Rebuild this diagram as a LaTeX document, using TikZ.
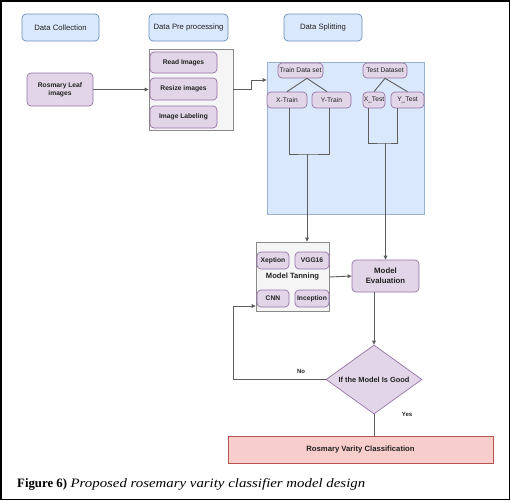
\documentclass[tikz,border=0pt]{standalone}
\usepackage{fontspec}
\setmainfont{Liberation Sans}
\newfontfamily\capfont{Liberation Serif}
\newfontfamily\capit[FakeStretch=1.16]{Liberation Serif}
\usetikzlibrary{shapes.geometric,arrows.meta,calc}
\definecolor{bfill}{HTML}{DAE8FC}
\definecolor{bdraw}{HTML}{6C8EBF}
\definecolor{pfill}{HTML}{E1D5E7}
\definecolor{pdraw}{HTML}{9673A6}
\definecolor{gfill}{HTML}{F5F5F5}
\definecolor{gdraw}{HTML}{8A8A8A}
\definecolor{rfill}{HTML}{F8CECC}
\definecolor{rdraw}{HTML}{B85450}
\definecolor{lgray}{HTML}{5E5E5E}
\definecolor{txt}{HTML}{222222}
\tikzset{
  box/.style={rounded corners=4pt, inner sep=0pt, align=center, line width=0.7pt, text=txt},
  hdr/.style={box, fill=bfill, draw=bdraw, font=\fontsize{7.7}{9}\selectfont},
  pbox/.style={box, fill=pfill, draw=pdraw, font=\bfseries\fontsize{6.7}{8}\selectfont},
  tbox/.style={box, fill=pfill, draw=pdraw, font=\fontsize{6.7}{8}\selectfont},
  cont/.style={inner sep=0pt, line width=0.7pt},
  conn/.style={draw=lgray, line width=0.9pt},
  arr/.style={conn, -{Triangle[length=4pt,width=3.6pt]}},
  lbl/.style={inner sep=0pt, text=txt, font=\bfseries\fontsize{6}{7}\selectfont}
}
\begin{document}
\begin{tikzpicture}[x=1pt,y=-1pt]
\useasboundingbox (0,0) rectangle (511,501);
\draw[line width=1.5pt] (0.75,0.75) rectangle (509.5,499.5);

% headers
\node[hdr, minimum width=77, minimum height=27] (dc) at (60.5,27.5) {Data Collection};
\node[hdr, minimum width=79, minimum height=27] (dp) at (188.5,27.5) {Data Pre processing};
\node[hdr, minimum width=78, minimum height=27] (ds) at (323,27.5) {Data Splitting};

% containers
\node[cont, fill=gfill, draw=gdraw, minimum width=84, minimum height=81] (prep) at (191,89.5) {};
\node[cont, fill=bfill, draw=bdraw!70, minimum width=157, minimum height=152] (blue) at (345.5,138) {};
\node[cont, fill=gfill, draw=gdraw, minimum width=73, minimum height=69] (tan) at (292.5,276.5) {};

% leaf and preprocessing
\node[pbox, minimum width=66, minimum height=33] (leaf) at (60,89.5) {Rosmary Leaf\\images};
\node[pbox, minimum width=67, minimum height=21] (read) at (183.5,62.5) {Read Images};
\node[pbox, minimum width=67, minimum height=22] (resize) at (183.5,89) {Resize images};
\node[pbox, minimum width=67, minimum height=22] (labl) at (183.5,117) {Image Labeling};

% splitting
\node[tbox, minimum width=45, minimum height=15] (train) at (300.5,70.5) {Train Data set};
\node[tbox, minimum width=44, minimum height=15] (test) at (385,70.5) {Test Dataset};
\node[tbox, minimum width=40, minimum height=16] (xtrain) at (287,100) {X-Train};
\node[tbox, minimum width=39, minimum height=16] (ytrain) at (331.5,100) {Y-Train};
\node[tbox, minimum width=22, minimum height=16] (xtest) at (374,100) {X\_Test};
\node[tbox, minimum width=33, minimum height=16] (ytest) at (407.5,100) {Y\_Test};

% model training
\node[pbox, minimum width=32, minimum height=17] (xep) at (273,260.5) {Xeption};
\node[pbox, minimum width=34, minimum height=17] (vgg) at (312,260.5) {VGG16};
\node[pbox, minimum width=32, minimum height=17] (cnn) at (273,298.5) {CNN};
\node[pbox, minimum width=34, minimum height=17] (inc) at (312,298.5) {Inception};
\node[inner sep=0pt, text=txt, font=\bfseries\fontsize{7.6}{9}\selectfont] (mt) at (292.5,277) {Model Tanning};

\node[box, fill=pfill, draw=pdraw, font=\bfseries\fontsize{7.8}{10}\selectfont, minimum width=67, minimum height=32] (me) at (385.5,276) {Model\\Evaluation};

\node[diamond, fill=pfill, draw=pdraw, line width=0.7pt, inner sep=0pt, text=txt, aspect=1.39, minimum width=96, minimum height=69, font=\bfseries\fontsize{7.4}{9}\selectfont] (dia) at (374,379.5) {If the Model Is Good};

\node[fill=rfill, draw=rdraw, line width=1pt, inner sep=0pt, text=txt, minimum width=265, minimum height=27, font=\bfseries\fontsize{7.7}{9}\selectfont] (red) at (360.5,449.5) {Rosmary Varity Classification};

% connectors
\draw[arr] (leaf.east) -- (leaf.east -| prep.west);
\coordinate (elb) at (251,80);
\draw[arr] (prep.east) -| (elb) -- (elb -| blue.west);

\draw[conn] (xtrain.north) -- ([xshift=6.5pt]train.south) -- ([xshift=-4.5pt]ytrain.north);
\draw[conn] (xtest.north) -- (test.south) -- (ytest.north);

\coordinate (trj) at (307,154);
\draw[conn] ([xshift=2pt]xtrain.south) |- (trj) -| ([xshift=-2.5pt]ytrain.south);
\draw[arr] (trj) -- (trj |- tan.north);

\coordinate (tej) at (385.5,143);
\draw[conn] ([xshift=-6pt]xtest.south) |- (tej) -| ([xshift=-10.5pt]ytest.south);
\draw[arr] (tej) -- (me.north);

\draw[arr] (mt.east -| tan.east) -- (me.west);
\draw[arr] (me.south -| dia.north) -- (dia.north);

\coordinate (fbx) at (233,306);
\draw[arr] (dia.west) -| (fbx) -- (fbx -| tan.west);
\node[lbl] (no) at (301,371) {No};

\draw[conn] (dia.south) -- (dia.south |- red.north);
\node[lbl] (yes) at (407,414) {Yes};

% caption
\node[anchor=base west, inner sep=0pt, font=\fontsize{12.8}{14}\selectfont] (cap) at (17,487) {{\capfont\bfseries Figure 6)} {\capit\itshape Proposed rosemary varity classifier model design}};
\end{tikzpicture}
\end{document}
